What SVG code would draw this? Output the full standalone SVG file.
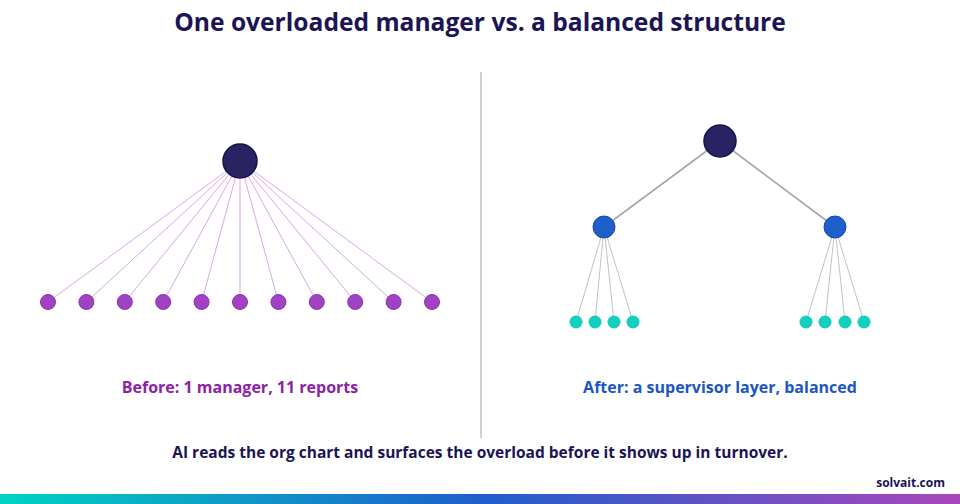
<svg xmlns="http://www.w3.org/2000/svg" width="960" height="504" viewBox="0 0 960 504">
<defs>
<linearGradient id="bar" x1="0" y1="0" x2="1" y2="0">
<stop offset="0" stop-color="#00D3C3"/>
<stop offset="0.5" stop-color="#1E5ECB"/>
<stop offset="1" stop-color="#AA46BC"/>
</linearGradient>
<style>
text{font-family:"Open Sans","Liberation Sans",sans-serif;font-weight:700;text-anchor:middle}
.title{font-size:24.6px;fill:#1B1456}
.lbl{font-size:16px}
.foot{font-size:15.5px;fill:#1B1456}
.boss{fill:#2A2363;stroke:#17124A;stroke-width:1.5}
.rep{fill:#A142C4;stroke:#8A2FAE;stroke-width:1}
.sup{fill:#1F5FCC;stroke:#1849A6;stroke-width:1}
.leaf{fill:#12CFC0}
.lp{stroke:#D9A6E8;stroke-width:1;fill:none}
.lg{stroke:#A6A6A6;stroke-width:1.6;fill:none}
.lg2{stroke:#C2C2C2;stroke-width:1;fill:none}
</style>
</defs>
<rect width="960" height="504" fill="#FFFFFF"/>
<text class="title" x="480" y="31">One overloaded manager vs. a balanced structure</text>
<line x1="481" y1="72" x2="481" y2="438" stroke="#CFCFCF" stroke-width="2"/>
<g id="connectors">
<g class="lp">
<line x1="240" y1="161" x2="48" y2="302"/>
<line x1="240" y1="161" x2="86.4" y2="302"/>
<line x1="240" y1="161" x2="124.8" y2="302"/>
<line x1="240" y1="161" x2="163.2" y2="302"/>
<line x1="240" y1="161" x2="201.6" y2="302"/>
<line x1="240" y1="161" x2="240" y2="302"/>
<line x1="240" y1="161" x2="278.4" y2="302"/>
<line x1="240" y1="161" x2="316.8" y2="302"/>
<line x1="240" y1="161" x2="355.2" y2="302"/>
<line x1="240" y1="161" x2="393.6" y2="302"/>
<line x1="240" y1="161" x2="432" y2="302"/>
</g>
<g class="lg">
<line x1="720" y1="141" x2="604" y2="227"/>
<line x1="720" y1="141" x2="835" y2="227"/>
</g>
<g class="lg2">
<line x1="604" y1="227" x2="576" y2="322"/>
<line x1="604" y1="227" x2="595" y2="322"/>
<line x1="604" y1="227" x2="614" y2="322"/>
<line x1="604" y1="227" x2="633" y2="322"/>
<line x1="835" y1="227" x2="806" y2="322"/>
<line x1="835" y1="227" x2="825" y2="322"/>
<line x1="835" y1="227" x2="845" y2="322"/>
<line x1="835" y1="227" x2="864" y2="322"/>
</g>
</g>
<g id="before-manager"><circle class="boss" cx="240" cy="161" r="17"/></g>
<g id="before-reports">
<circle class="rep" cx="48" cy="302" r="7.5"/>
<circle class="rep" cx="86.4" cy="302" r="7.5"/>
<circle class="rep" cx="124.8" cy="302" r="7.5"/>
<circle class="rep" cx="163.2" cy="302" r="7.5"/>
<circle class="rep" cx="201.6" cy="302" r="7.5"/>
<circle class="rep" cx="240" cy="302" r="7.5"/>
<circle class="rep" cx="278.4" cy="302" r="7.5"/>
<circle class="rep" cx="316.8" cy="302" r="7.5"/>
<circle class="rep" cx="355.2" cy="302" r="7.5"/>
<circle class="rep" cx="393.6" cy="302" r="7.5"/>
<circle class="rep" cx="432" cy="302" r="7.5"/>
</g>
<g id="after-manager"><circle class="boss" cx="720" cy="141" r="16"/></g>
<g id="after-supervisor-left"><circle class="sup" cx="604" cy="227" r="11"/></g>
<g id="after-supervisor-right"><circle class="sup" cx="835" cy="227" r="11"/></g>
<g id="after-reports-left">
<circle class="leaf" cx="576" cy="322" r="6.5"/>
<circle class="leaf" cx="595" cy="322" r="6.5"/>
<circle class="leaf" cx="614" cy="322" r="6.5"/>
<circle class="leaf" cx="633" cy="322" r="6.5"/>
</g>
<g id="after-reports-right">
<circle class="leaf" cx="806" cy="322" r="6.5"/>
<circle class="leaf" cx="825" cy="322" r="6.5"/>
<circle class="leaf" cx="845" cy="322" r="6.5"/>
<circle class="leaf" cx="864" cy="322" r="6.5"/>
</g>
<text class="lbl" x="240" y="393" fill="#8B22A8">Before: 1 manager, 11 reports</text>
<text class="lbl" x="720" y="393" fill="#1B57C2">After: a supervisor layer, balanced</text>
<text class="foot" x="480" y="458">AI reads the org chart and surfaces the overload before it shows up in turnover.</text>
<text x="945" y="487" style="font-size:12px;fill:#1B1456;text-anchor:end">solvait.com</text>
<rect x="0" y="494" width="960" height="10" fill="url(#bar)"/>
</svg>
